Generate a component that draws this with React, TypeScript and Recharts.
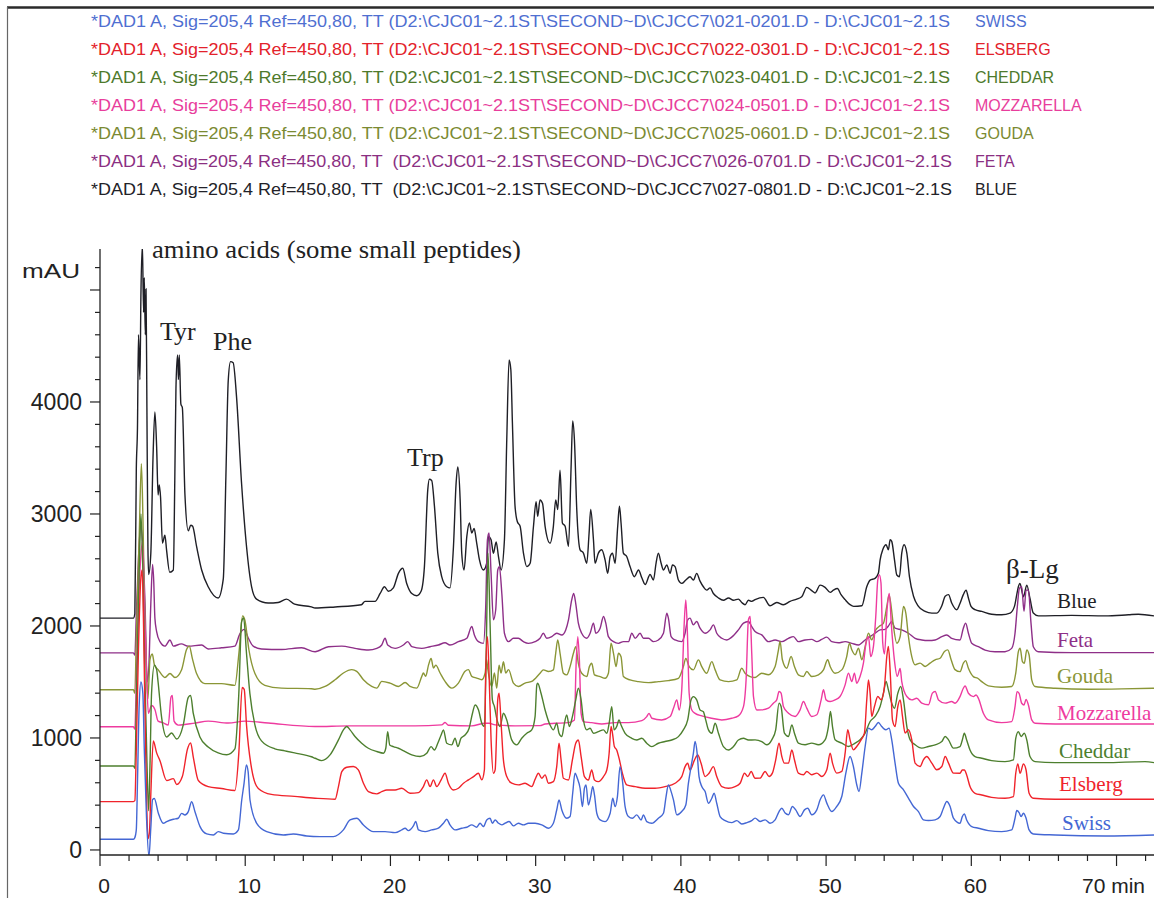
import React from "react";
import { LineChart, Line, XAxis, YAxis } from "recharts";

type Pt = [number, number];

// Reversed-phase HPLC of cheese water extracts, 205 nm.
// Each trace is [retention time (min), absorbance (mAU)], already stacked with its own offset.

const blueTrace: Pt[] = [
  [0, 2070], [2.3, 2070], [2.4, 2110], [2.5, 3400], [2.58, 3770], [2.65, 4600], [2.75, 4200], [2.82, 4970],
  [2.92, 5400], [3.0, 4800], [3.05, 5110], [3.12, 4600], [3.17, 5010], [3.23, 3950], [3.3, 2700], [3.35, 2460],
  [3.5, 2650], [3.65, 3500], [3.78, 3910], [3.9, 3600], [4.0, 3170], [4.08, 3260], [4.17, 3150], [4.3, 2740],
  [4.47, 2810], [4.59, 2670], [4.8, 2480], [5.05, 2500], [5.15, 3300], [5.23, 4120], [5.34, 4420], [5.4, 4200],
  [5.46, 4420], [5.57, 3980], [5.67, 3950], [5.85, 3170], [6.08, 2850], [6.25, 2900], [6.38, 2890], [6.65, 2710],
  [7.0, 2500], [7.45, 2350], [8.14, 2250], [8.49, 2420], [8.67, 3340], [8.83, 4190], [8.99, 4360], [9.17, 4350],
  [9.4, 4050], [9.75, 3270], [10.09, 2710], [10.44, 2350], [10.78, 2240], [11.58, 2205], [12.27, 2210],
  [12.84, 2240], [13.4, 2195], [14.56, 2170], [14.81, 2160], [16.19, 2170], [18.0, 2190], [18.25, 2220],
  [18.94, 2220], [19.29, 2290], [19.59, 2350], [19.86, 2310], [20.2, 2340], [20.55, 2470], [20.85, 2515],
  [21.12, 2380], [21.47, 2290], [21.81, 2270], [22.11, 2310], [22.34, 2530], [22.57, 3215], [22.68, 3310],
  [22.84, 3300], [23.03, 3070], [23.26, 2650], [23.53, 2440], [23.88, 2350], [24.1, 2340], [24.34, 2710],
  [24.52, 3270], [24.64, 3420], [24.8, 3130], [24.91, 2650], [25.07, 2500], [25.26, 2800], [25.44, 2920],
  [25.6, 2830], [25.76, 2870], [25.94, 2740], [26.13, 2590], [26.4, 2500], [26.63, 2560], [26.75, 2800],
  [26.93, 2770], [27.09, 2650], [27.28, 2750], [27.44, 2620], [27.62, 2500], [27.85, 2770], [28.01, 3660],
  [28.17, 4375], [28.29, 4290], [28.4, 3810], [28.58, 3070], [28.74, 2930], [28.93, 2890], [29.16, 2650],
  [29.39, 2530], [29.62, 2560], [29.85, 2890], [30.03, 3110], [30.14, 2980], [30.3, 3125], [30.47, 3095],
  [30.65, 2890], [30.99, 2740], [31.22, 2890], [31.38, 3125], [31.52, 3040], [31.68, 3390], [31.84, 2920],
  [32.03, 2890], [32.26, 2710], [32.44, 3420], [32.55, 3830], [32.67, 3660], [32.83, 3040], [33.06, 2680],
  [33.29, 2650], [33.52, 2560], [33.68, 2830], [33.79, 3040], [33.98, 2770], [34.09, 2560], [34.32, 2650],
  [34.55, 2680], [34.78, 2590], [34.96, 2470], [35.13, 2620], [35.29, 2650], [35.47, 2560], [35.65, 2890],
  [35.77, 3070], [35.88, 2920], [36.04, 2650], [36.27, 2620], [36.5, 2530], [36.8, 2440], [37.08, 2500],
  [37.31, 2430], [37.54, 2370], [37.88, 2460], [38.11, 2410], [38.29, 2560], [38.45, 2650], [38.64, 2560],
  [38.8, 2500], [39.03, 2545], [39.26, 2470], [39.42, 2545], [39.6, 2530], [39.83, 2410], [40.06, 2380],
  [40.34, 2410], [40.63, 2440], [40.86, 2410], [41.09, 2470], [41.32, 2400], [41.55, 2350], [41.78, 2320],
  [42.01, 2340], [42.24, 2290], [42.59, 2250], [42.93, 2230], [43.28, 2250], [43.62, 2230], [43.96, 2240],
  [44.19, 2210], [44.42, 2190], [44.65, 2230], [44.88, 2220], [45.11, 2235], [45.68, 2255], [46.14, 2180],
  [46.6, 2210], [47.06, 2190], [47.52, 2220], [47.98, 2240], [48.32, 2260], [48.67, 2345], [48.97, 2320],
  [49.24, 2295], [49.59, 2365], [49.93, 2345], [50.28, 2300], [50.5, 2320], [50.78, 2335], [51.03, 2280],
  [51.31, 2235], [51.65, 2190], [51.9, 2175], [52.46, 2180], [52.8, 2350], [53.03, 2410], [53.37, 2425],
  [53.6, 2470], [53.72, 2590], [53.9, 2680], [54.13, 2725], [54.29, 2680], [54.41, 2770], [54.52, 2755],
  [54.71, 2590], [54.87, 2455], [55.05, 2440], [55.21, 2650], [55.37, 2725], [55.56, 2650], [55.74, 2440],
  [56.02, 2265], [56.36, 2175], [56.82, 2130], [57.28, 2115], [57.62, 2115], [57.97, 2180], [58.2, 2265],
  [58.43, 2280], [58.65, 2205], [59.0, 2145], [59.22, 2200], [59.45, 2280], [59.64, 2320], [59.8, 2250],
  [59.98, 2175], [60.26, 2145], [60.72, 2130], [61.4, 2105], [62.09, 2100], [62.67, 2115], [62.97, 2175],
  [63.13, 2280], [63.24, 2350], [63.35, 2380], [63.59, 2260], [63.82, 2365], [64.04, 2245], [64.27, 2115],
  [64.62, 2090], [66.91, 2095], [69.21, 2090], [70.82, 2100], [71.5, 2105], [72.58, 2090],
];

const fetaTrace: Pt[] = [
  [0, 1760], [2.3, 1760], [2.4, 1740], [2.5, 2100], [2.65, 2600], [2.8, 2900], [2.95, 2700], [3.1, 2200],
  [3.25, 1500], [3.35, 1600], [3.5, 2200], [3.62, 2550], [3.7, 2400], [3.78, 2070], [3.9, 1950], [4.13, 1860],
  [4.47, 1820], [4.82, 1875], [5.05, 1820], [5.6, 1840], [6.08, 1820], [7.0, 1830], [7.45, 1795], [8.37, 1805],
  [9.29, 1820], [9.63, 1930], [9.93, 1970], [10.2, 1895], [10.55, 1820], [11.12, 1795], [12.5, 1790],
  [13.88, 1805], [14.81, 1770], [15.73, 1815], [16.65, 1820], [17.56, 1800], [18.48, 1785], [19.06, 1800],
  [19.4, 1830], [19.63, 1890], [19.81, 1830], [20.32, 1800], [20.89, 1830], [21.19, 1860], [21.47, 1815],
  [22.16, 1800], [22.73, 1815], [23.3, 1830], [23.76, 1850], [24.1, 1830], [24.68, 1860], [25.26, 1890],
  [25.6, 1995], [25.78, 1920], [26.06, 1860], [26.4, 1845], [26.56, 2170], [26.68, 2770], [26.79, 2830],
  [26.93, 2470], [27.09, 2055], [27.25, 2145], [27.39, 2500], [27.5, 2530], [27.67, 2290], [27.85, 1935],
  [28.13, 1860], [28.47, 1890], [28.81, 1890], [29.16, 1860], [29.5, 1845], [29.96, 1860], [30.3, 1890],
  [30.53, 1935], [30.76, 1890], [31.11, 1905], [31.45, 1935], [31.8, 1920], [32.07, 1965], [32.26, 2055],
  [32.48, 2230], [32.62, 2290], [32.76, 2200], [32.94, 2025], [33.17, 1935], [33.52, 1890], [33.75, 1935],
  [33.98, 2025], [34.14, 1935], [34.44, 1980], [34.67, 2085], [34.83, 2025], [35.01, 1905], [35.36, 1860],
  [35.7, 1845], [36.04, 1860], [36.39, 1860], [36.62, 1935], [36.85, 1890], [37.19, 1935], [37.42, 1890],
  [37.77, 1890], [38.11, 1860], [38.45, 1875], [38.8, 1935], [39.03, 2115], [39.14, 2070], [39.33, 1905],
  [39.6, 1875], [40.06, 1860], [40.29, 1935], [40.47, 2055], [40.63, 2070], [40.86, 2010], [41.09, 2040],
  [41.32, 1980], [41.67, 1935], [42.01, 1965], [42.24, 2010], [42.47, 1935], [42.82, 1890], [43.16, 1875],
  [43.5, 1900], [43.96, 1965], [44.31, 2025], [44.65, 2040], [44.88, 1995], [45.11, 1950], [45.57, 1920],
  [46.03, 1860], [46.49, 1875], [46.95, 1860], [47.41, 1890], [47.75, 1905], [48.09, 1860], [48.55, 1875],
  [49.01, 1880], [49.36, 1860], [49.7, 1880], [50.05, 1900], [50.39, 1860], [50.85, 1850], [51.31, 1860],
  [51.77, 1845], [52.23, 1830], [52.69, 1875], [53.03, 1905], [53.37, 1935], [53.72, 1965], [54.06, 1970],
  [54.29, 2000], [54.52, 2040], [54.75, 1980], [55.21, 1965], [55.67, 1935], [56.13, 1890], [56.59, 1875],
  [57.05, 1870], [57.51, 1875], [57.97, 1905], [58.31, 1920], [58.65, 1890], [59.22, 1875], [59.45, 1980],
  [59.61, 2025], [59.8, 1935], [60.03, 1845], [60.49, 1815], [60.95, 1785], [61.63, 1770], [62.32, 1770],
  [62.78, 1800], [63.01, 1935], [63.17, 2175], [63.31, 2335], [63.47, 2350], [63.63, 2130], [63.77, 2320],
  [63.93, 2320], [64.11, 2025], [64.27, 1815], [64.62, 1770], [66.91, 1762], [69.21, 1762], [72.58, 1762],
];

const goudaTrace: Pt[] = [
  [0, 1430], [2.3, 1430], [2.4, 1400], [2.5, 1900], [2.7, 2800], [2.85, 3450], [2.95, 3000], [3.05, 2300],
  [3.2, 1600], [3.3, 1350], [3.44, 1700], [3.6, 1750], [3.75, 1650], [4.0, 1610], [4.47, 1540], [4.82, 1575],
  [5.16, 1540], [5.62, 1610], [5.96, 1790], [6.15, 1820], [6.35, 1715], [6.65, 1575], [7.22, 1485], [8.37, 1485],
  [9.29, 1470], [9.56, 1750], [9.82, 2090], [9.98, 2050], [10.25, 1790], [10.67, 1575], [11.35, 1470],
  [12.5, 1445], [14.56, 1440], [14.81, 1435], [15.5, 1460], [16.19, 1520], [16.76, 1580], [17.34, 1610],
  [17.68, 1595], [18.14, 1520], [18.71, 1460], [19.06, 1445], [19.4, 1505], [19.97, 1490], [20.55, 1460],
  [21.01, 1495], [21.35, 1460], [21.81, 1445], [22.16, 1550], [22.27, 1580], [22.43, 1550], [22.62, 1650],
  [22.8, 1710], [22.96, 1625], [23.12, 1650], [23.42, 1580], [23.76, 1505], [24.22, 1445], [24.68, 1490],
  [25.14, 1595], [25.37, 1610], [25.6, 1550], [25.94, 1535], [26.29, 1520], [26.52, 1580], [26.62, 1700],
  [26.7, 1620], [26.98, 1460], [27.16, 1580], [27.32, 1445], [27.48, 1650], [27.62, 1580], [27.78, 1680],
  [27.94, 1580], [28.13, 1610], [28.47, 1490], [28.81, 1460], [29.27, 1490], [29.73, 1505], [30.3, 1578],
  [30.53, 1608], [30.88, 1593], [31.22, 1608], [31.38, 1756], [31.52, 1875], [31.68, 1756], [31.91, 1578],
  [32.14, 1563], [32.37, 1637], [32.6, 1756], [32.76, 1816], [32.94, 1667], [33.17, 1578], [33.52, 1548],
  [33.7, 1637], [33.86, 1667], [34.05, 1563], [34.44, 1548], [34.78, 1533], [35.01, 1578], [35.19, 1846],
  [35.36, 1756], [35.54, 1637], [35.7, 1756], [35.88, 1726], [36.04, 1548], [36.5, 1518], [37.08, 1503],
  [37.77, 1494], [38.45, 1503], [39.14, 1512], [39.83, 1533], [40.17, 1637], [40.34, 1711], [40.57, 1637],
  [40.86, 1608], [41.21, 1697], [41.44, 1637], [41.78, 1578], [42.13, 1682], [42.36, 1608], [42.7, 1518],
  [43.28, 1503], [43.85, 1518], [44.19, 1622], [44.42, 1578], [44.77, 1548], [45.11, 1540], [45.57, 1578],
  [46.03, 1564], [46.49, 1638], [46.72, 1787], [46.83, 1861], [46.99, 1698], [47.29, 1623], [47.59, 1727],
  [47.82, 1638], [48.09, 1564], [48.44, 1549], [48.67, 1593], [49.01, 1549], [49.47, 1564], [49.82, 1608],
  [50.11, 1698], [50.28, 1638], [50.62, 1578], [51.08, 1608], [51.42, 1727], [51.61, 1846], [51.77, 1787],
  [52.0, 1742], [52.23, 1802], [52.46, 1698], [52.69, 1817], [52.92, 1936], [53.14, 1876], [53.42, 1965],
  [53.65, 1995], [53.95, 2025], [54.18, 2174], [54.34, 2278], [54.48, 2174], [54.64, 1995], [54.87, 1846],
  [55.1, 1906], [55.33, 2174], [55.49, 2114], [55.67, 1906], [55.9, 1727], [56.13, 1653], [56.47, 1668],
  [56.82, 1638], [57.16, 1668], [57.51, 1698], [57.85, 1712], [58.15, 1772], [58.38, 1787], [58.61, 1698],
  [58.88, 1610], [59.22, 1592], [59.45, 1667], [59.61, 1691], [59.8, 1622], [60.14, 1548], [60.44, 1533],
  [60.72, 1503], [61.17, 1465], [62.09, 1453], [62.78, 1459], [63.06, 1578], [63.24, 1771], [63.36, 1801],
  [63.52, 1682], [63.65, 1667], [63.82, 1786], [63.98, 1741], [64.16, 1518], [64.39, 1459], [65.77, 1444],
  [68.06, 1435], [70.36, 1438], [72.58, 1444],
];

const mozzarellaTrace: Pt[] = [
  [0, 1100], [2.3, 1100], [2.4, 1080], [2.5, 1500], [2.65, 2200], [2.8, 2600], [2.92, 2750], [3.05, 2200],
  [3.2, 1600], [3.33, 1220], [3.55, 1290], [3.78, 1255], [4.0, 1150], [4.36, 1135], [4.7, 1115], [4.89, 1365],
  [4.98, 1380], [5.1, 1150], [5.39, 1115], [6.54, 1133], [7.45, 1150], [8.83, 1133], [9.98, 1150], [11.58, 1133],
  [14.81, 1102], [17.1, 1108], [19.4, 1108], [21.7, 1108], [23.53, 1117], [23.76, 1138], [23.99, 1114],
  [25.6, 1108], [26.52, 1132], [26.8, 1132], [27.21, 1117], [28.58, 1108], [30.3, 1110], [30.65, 1125],
  [31.34, 1131], [32.26, 1137], [32.67, 1161], [32.78, 1637], [32.9, 1905], [33.01, 1697], [33.13, 1220],
  [33.29, 1146], [33.86, 1137], [34.55, 1125], [35.47, 1137], [36.39, 1137], [37.31, 1155], [37.65, 1191],
  [37.81, 1220], [38.0, 1176], [38.68, 1161], [39.26, 1191], [39.49, 1265], [39.72, 1340], [39.88, 1250],
  [40.06, 1429], [40.22, 1994], [40.34, 2232], [40.45, 1935], [40.57, 1399], [40.75, 1250], [40.98, 1220],
  [41.44, 1197], [42.13, 1176], [42.82, 1161], [43.5, 1176], [43.96, 1197], [44.31, 1280], [44.49, 1518],
  [44.65, 2054], [44.77, 2084], [44.88, 1756], [45.0, 1369], [45.23, 1250], [45.57, 1251], [46.03, 1266],
  [46.37, 1311], [46.6, 1340], [46.76, 1415], [46.9, 1400], [47.06, 1281], [47.41, 1221], [47.87, 1192],
  [48.21, 1251], [48.44, 1325], [48.67, 1266], [49.01, 1192], [49.36, 1207], [49.66, 1340], [49.82, 1430],
  [50.0, 1340], [50.28, 1325], [50.62, 1340], [50.96, 1370], [51.31, 1474], [51.54, 1579], [51.77, 1504],
  [51.95, 1579], [52.11, 1489], [52.34, 1549], [52.57, 1668], [52.75, 1846], [52.92, 1906], [53.07, 1727],
  [53.26, 1817], [53.42, 2084], [53.56, 2412], [53.67, 2456], [53.78, 2382], [53.9, 1850], [54.02, 1750],
  [54.2, 2150], [54.35, 2290], [54.5, 2000], [54.7, 1700], [54.9, 1550], [55.1, 1620], [55.21, 1504],
  [55.56, 1370], [55.9, 1340], [56.24, 1355], [56.59, 1311], [57.05, 1296], [57.32, 1400], [57.51, 1415],
  [57.74, 1340], [58.2, 1311], [58.65, 1326], [58.88, 1310], [59.22, 1369], [59.45, 1444], [59.57, 1464],
  [59.8, 1399], [60.14, 1369], [60.33, 1384], [60.49, 1354], [60.83, 1220], [61.17, 1161], [62.09, 1137],
  [62.78, 1146], [63.01, 1280], [63.15, 1414], [63.29, 1399], [63.47, 1310], [63.63, 1295], [63.77, 1345],
  [63.93, 1295], [64.16, 1161], [64.39, 1131], [65.77, 1125], [69.21, 1125], [72.58, 1125],
];

const cheddarTrace: Pt[] = [
  [0, 750], [2.3, 750], [2.4, 730], [2.5, 1300], [2.7, 2500], [2.82, 3000], [2.95, 2500], [3.1, 1500],
  [3.25, 700], [3.35, 350], [3.45, 800], [3.55, 1400], [3.75, 1650], [3.9, 1610], [4.0, 1500], [4.24, 1186],
  [4.59, 1009], [4.93, 1044], [5.28, 991], [5.73, 1115], [6.08, 1363], [6.24, 1380], [6.42, 1221], [6.88, 1009],
  [7.45, 920], [8.14, 867], [8.72, 850], [9.29, 903], [9.56, 1398], [9.75, 2036], [9.89, 2071], [10.09, 1752],
  [10.32, 1398], [10.67, 1115], [11.12, 974], [12.04, 903], [12.73, 885], [13.4, 867], [14.56, 832],
  [14.81, 819], [15.27, 798], [15.84, 849], [16.42, 983], [16.76, 1072], [16.99, 1102], [17.22, 1072],
  [17.56, 1013], [18.02, 953], [18.48, 908], [19.06, 879], [19.52, 864], [19.68, 908], [19.81, 1057],
  [19.95, 938], [20.2, 923], [20.55, 908], [21.01, 879], [21.47, 849], [22.04, 834], [22.5, 864], [22.8, 923],
  [23.03, 893], [23.26, 953], [23.49, 1027], [23.65, 1072], [23.88, 953], [24.22, 938], [24.45, 998],
  [24.64, 923], [24.86, 998], [25.14, 1027], [25.42, 1087], [25.65, 1221], [25.83, 1295], [26.06, 1251],
  [26.29, 1132], [26.47, 1102], [26.61, 1876], [26.72, 2649], [26.86, 2024], [27.02, 1340], [27.16, 1281],
  [27.34, 1161], [27.55, 1102], [27.78, 1221], [28.01, 1161], [28.35, 983], [28.7, 938], [29.04, 998],
  [29.39, 1042], [29.73, 1072], [29.96, 1191], [30.08, 1474], [30.14, 1488], [30.37, 1399], [30.65, 1250],
  [30.99, 1116], [31.22, 1072], [31.45, 1131], [31.61, 1042], [31.8, 1012], [31.98, 1131], [32.14, 1206],
  [32.32, 1102], [32.53, 1191], [32.76, 1340], [32.94, 1444], [33.13, 1340], [33.29, 1161], [33.52, 1072],
  [33.75, 1087], [33.98, 1042], [34.32, 1057], [34.67, 1072], [34.9, 1042], [35.06, 1131], [35.24, 1280],
  [35.4, 1072], [35.58, 1102], [35.74, 1161], [35.88, 1116], [36.16, 1042], [36.62, 997], [36.96, 982],
  [37.31, 997], [37.65, 953], [38.0, 923], [38.45, 953], [38.91, 968], [39.37, 982], [39.83, 1012],
  [40.17, 1072], [40.47, 1161], [40.7, 1340], [40.86, 1369], [41.09, 1340], [41.32, 1250], [41.55, 1235],
  [41.71, 1161], [41.9, 1072], [42.13, 1042], [42.36, 1131], [42.59, 1042], [42.93, 923], [43.28, 893],
  [43.62, 923], [43.96, 982], [44.31, 997], [44.65, 982], [45.11, 983], [45.57, 968], [45.91, 939],
  [46.26, 983], [46.53, 1073], [46.76, 1311], [46.9, 1281], [47.13, 1043], [47.41, 1013], [47.64, 1117],
  [47.82, 1043], [48.09, 954], [48.55, 939], [49.01, 954], [49.47, 939], [49.93, 983], [50.16, 1102],
  [50.3, 1236], [50.44, 1102], [50.62, 983], [51.08, 954], [51.54, 924], [52.0, 954], [52.34, 983],
  [52.69, 1043], [53.03, 1147], [53.37, 1192], [53.72, 1281], [53.95, 1400], [54.13, 1504], [54.29, 1430],
  [54.52, 1311], [54.71, 1266], [54.94, 1400], [55.14, 1460], [55.33, 1340], [55.56, 1102], [55.79, 983],
  [56.13, 939], [56.59, 909], [57.05, 924], [57.51, 939], [57.97, 968], [58.2, 1013], [58.43, 983],
  [58.77, 909], [59.22, 923], [59.38, 982], [59.52, 1042], [59.68, 982], [59.91, 893], [60.26, 834],
  [60.72, 819], [61.4, 798], [62.32, 789], [62.9, 804], [63.06, 997], [63.24, 1057], [63.43, 1012],
  [63.65, 1042], [63.82, 982], [64.04, 834], [64.39, 789], [65.77, 780], [69.21, 780], [71.96, 789],
  [72.58, 780],
];

const elsbergTrace: Pt[] = [
  [0, 432], [2.3, 432], [2.4, 440], [2.5, 900], [2.65, 1800], [2.8, 2400], [2.9, 2500], [3.0, 2000],
  [3.1, 1200], [3.2, 500], [3.3, 100], [3.4, 150], [3.5, 500], [3.67, 973], [3.9, 867], [4.13, 797],
  [4.59, 620], [5.05, 637], [5.28, 584], [5.67, 655], [6.03, 903], [6.24, 956], [6.42, 832], [6.77, 620],
  [7.45, 566], [8.37, 549], [9.29, 531], [9.56, 867], [9.79, 1451], [9.93, 1434], [10.09, 1115], [10.44, 726],
  [10.9, 549], [11.8, 496], [13.4, 478], [14.81, 462], [16.19, 453], [16.42, 566], [16.65, 700], [16.99, 739],
  [17.45, 745], [17.79, 715], [18.14, 596], [18.48, 521], [19.06, 501], [19.4, 521], [19.75, 536],
  [20.32, 536], [20.78, 551], [21.35, 506], [21.93, 512], [22.27, 566], [22.5, 626], [22.73, 566],
  [22.96, 626], [23.19, 566], [23.49, 626], [23.76, 685], [23.99, 596], [24.34, 536], [24.68, 551],
  [25.03, 596], [25.37, 626], [25.72, 655], [26.06, 685], [26.29, 626], [26.47, 715], [26.56, 1578],
  [26.68, 1905], [26.79, 1578], [26.93, 983], [27.09, 685], [27.21, 715], [27.39, 1340], [27.48, 1399],
  [27.62, 1132], [27.78, 804], [28.01, 655], [28.35, 596], [28.81, 581], [29.27, 596], [29.73, 566],
  [29.96, 630], [30.19, 685], [30.42, 640], [30.65, 670], [30.88, 596], [31.22, 610], [31.45, 744],
  [31.61, 953], [31.75, 804], [31.91, 640], [32.26, 625], [32.53, 804], [32.76, 953], [32.94, 982],
  [33.13, 834], [33.36, 655], [33.63, 625], [33.86, 714], [34.05, 625], [34.32, 610], [34.67, 655],
  [34.9, 714], [35.06, 863], [35.19, 1102], [35.29, 1042], [35.42, 923], [35.58, 893], [35.77, 804],
  [35.97, 685], [36.27, 581], [36.85, 566], [37.54, 551], [38.22, 551], [38.91, 566], [39.6, 596],
  [40.06, 655], [40.29, 744], [40.47, 774], [40.63, 714], [40.94, 804], [41.16, 848], [41.39, 774],
  [41.67, 655], [41.94, 685], [42.24, 744], [42.47, 655], [42.82, 566], [43.28, 551], [43.73, 566],
  [44.08, 596], [44.38, 685], [44.61, 655], [44.84, 700], [45.11, 640], [45.45, 641], [45.8, 701],
  [46.07, 656], [46.3, 686], [46.53, 805], [46.76, 953], [46.95, 835], [47.13, 775], [47.41, 775],
  [47.64, 894], [47.82, 805], [48.09, 686], [48.44, 671], [48.67, 701], [49.01, 671], [49.36, 686],
  [49.7, 656], [50.05, 716], [50.28, 864], [50.44, 775], [50.73, 686], [51.08, 701], [51.31, 864],
  [51.49, 1073], [51.65, 983], [51.88, 894], [52.11, 924], [52.41, 983], [52.64, 1043], [52.8, 1340],
  [52.92, 1519], [53.03, 1400], [53.14, 1192], [53.33, 1281], [53.56, 1370], [53.79, 1340], [54.02, 1460],
  [54.18, 1727], [54.29, 1817], [54.43, 1549], [54.57, 1162], [54.75, 1102], [54.94, 1281], [55.1, 1340],
  [55.26, 1192], [55.44, 1043], [55.67, 1073], [55.9, 983], [56.13, 775], [56.47, 745], [56.7, 805],
  [56.93, 834], [57.28, 775], [57.62, 716], [57.97, 745], [58.2, 834], [58.43, 775], [58.77, 686],
  [59.22, 685], [59.38, 714], [59.52, 714], [59.68, 670], [59.91, 566], [60.26, 506], [60.72, 491],
  [61.4, 470], [62.32, 462], [62.9, 476], [63.06, 685], [63.2, 768], [63.36, 685], [63.59, 768],
  [63.77, 714], [63.98, 506], [64.27, 462], [65.77, 453], [69.21, 453], [72.58, 453],
];

const swissTrace: Pt[] = [
  [0, 95], [2.3, 95], [2.4, 110], [2.5, 180], [2.58, 600], [2.7, 1300], [2.82, 1500], [2.95, 1400],
  [3.05, 900], [3.2, 300], [3.37, -60], [3.5, 200], [3.62, 450], [3.74, 460], [4.02, 327], [4.36, 238],
  [4.59, 253], [5.05, 274], [5.39, 283], [5.62, 327], [5.85, 312], [6.08, 342], [6.31, 431], [6.54, 342],
  [6.89, 208], [7.35, 143], [7.81, 134], [8.15, 164], [8.49, 149], [9.18, 143], [9.53, 179], [9.76, 446],
  [9.92, 595], [10.08, 760], [10.2, 700], [10.33, 446], [10.79, 238], [11.48, 164], [12.63, 134],
  [13.31, 143], [14.23, 125], [15.15, 119], [16.07, 119], [16.76, 179], [17.22, 268], [17.68, 283],
  [18.14, 223], [18.82, 164], [19.63, 164], [20.32, 155], [20.78, 179], [21.01, 194], [21.24, 173],
  [21.58, 215], [21.74, 254], [21.93, 179], [22.39, 164], [22.84, 179], [23.3, 194], [23.65, 239],
  [23.88, 274], [24.1, 224], [24.45, 179], [24.91, 194], [25.26, 203], [25.6, 224], [25.94, 203],
  [26.17, 239], [26.4, 209], [26.63, 268], [26.86, 283], [27.02, 239], [27.21, 268], [27.44, 239],
  [27.67, 224], [27.9, 239], [28.17, 254], [28.47, 215], [28.81, 239], [29.16, 224], [29.5, 239],
  [29.96, 238], [30.42, 224], [30.88, 194], [31.22, 238], [31.45, 357], [31.61, 447], [31.8, 357],
  [32.14, 283], [32.37, 298], [32.55, 506], [32.71, 685], [32.87, 640], [33.06, 551], [33.22, 387],
  [33.36, 551], [33.47, 581], [33.63, 402], [33.79, 477], [33.93, 566], [34.05, 491], [34.21, 328],
  [34.44, 268], [34.78, 253], [35.13, 328], [35.31, 462], [35.47, 387], [35.63, 477], [35.81, 744],
  [35.97, 625], [36.16, 387], [36.39, 298], [36.66, 283], [36.96, 313], [37.26, 268], [37.42, 313],
  [37.65, 253], [38.0, 238], [38.45, 283], [38.8, 328], [38.98, 477], [39.14, 581], [39.33, 521],
  [39.49, 447], [39.72, 313], [40.06, 343], [40.34, 402], [40.52, 596], [40.7, 744], [40.86, 863],
  [40.98, 968], [41.12, 863], [41.25, 655], [41.44, 566], [41.67, 521], [41.9, 417], [42.13, 462],
  [42.29, 506], [42.47, 417], [42.7, 298], [43.05, 262], [43.5, 244], [43.85, 262], [44.19, 232],
  [44.54, 244], [44.88, 262], [45.11, 284], [45.45, 254], [45.8, 269], [46.14, 239], [46.49, 269],
  [46.76, 343], [46.95, 373], [47.18, 329], [47.41, 314], [47.68, 388], [47.91, 358], [48.21, 299],
  [48.51, 358], [48.74, 373], [49.01, 314], [49.36, 358], [49.59, 448], [49.82, 492], [50.05, 418],
  [50.39, 343], [50.73, 388], [51.08, 477], [51.36, 686], [51.65, 834], [51.88, 745], [52.11, 582],
  [52.27, 522], [52.46, 686], [52.69, 924], [52.92, 1088], [53.14, 1073], [53.37, 1102], [53.6, 1138],
  [53.83, 1102], [54.11, 1073], [54.34, 1088], [54.52, 983], [54.75, 775], [54.98, 596], [55.33, 537],
  [55.67, 463], [56.02, 388], [56.36, 343], [56.7, 269], [57.05, 263], [57.51, 269], [57.85, 299],
  [58.08, 373], [58.31, 433], [58.54, 388], [58.77, 284], [59.22, 238], [59.38, 298], [59.52, 322],
  [59.68, 268], [60.03, 209], [60.49, 194], [61.17, 173], [62.09, 164], [62.78, 179], [63.01, 283],
  [63.13, 352], [63.29, 334], [63.43, 298], [63.59, 328], [63.75, 292], [63.98, 179], [64.27, 143],
  [65.77, 134], [69.21, 125], [72.58, 134],
];

const xTicks = [0, 2, 4, 6, 8, 10, 12, 14, 16, 18, 20, 22, 24, 26, 28, 30, 32, 34, 36, 38, 40, 42, 44, 46, 48, 50,
  52, 54, 56, 58, 60, 62, 64, 66, 68, 70, 72];
const yTicks = [0, 200, 400, 600, 800, 1000, 1200, 1400, 1600, 1800, 2000, 2200, 2400, 2600, 2800, 3000, 3200,
  3400, 3600, 3800, 4000, 4200, 4400, 4600, 4800, 5000, 5200];

const sampleNames = ["Swiss", "Elsberg", "Cheddar", "Mozzarella", "Gouda", "Feta", "Blue"];
const fileIds = ["021-0201", "022-0301", "023-0401", "024-0501", "025-0601", "026-0701", "027-0801"];

const W = 1154;
const H = 898;
const AXIS_X = 100;
const AXIS_Y = 855;
const SANS = "'Liberation Sans', Arial, Helvetica, sans-serif";
const SERIF = "'Liberation Serif', 'Times New Roman', serif";
const INK = "#222";

const series = [
  { name: "Blue", data: blueTrace, color: "#1f1f26", header: "#222228", labelY: 608 },
  { name: "Feta", data: fetaTrace, color: "#8e2f88", header: "#8b2f82", labelY: 647 },
  { name: "Gouda", data: goudaTrace, color: "#8a9636", header: "#7b8a32", labelY: 683 },
  { name: "Mozzarella", data: mozzarellaTrace, color: "#ee3b9f", header: "#e83e9c", labelY: 720 },
  { name: "Cheddar", data: cheddarTrace, color: "#4d7f2e", header: "#4e7a2c", labelY: 758 },
  { name: "Elsberg", data: elsbergTrace, color: "#f0232b", header: "#e3222b", labelY: 791 },
  { name: "Swiss", data: swissTrace, color: "#4467d4", header: "#4f6fd1", labelY: 830 },
];

const toRows = (pts: Pt[]) => pts.map(([t, v]) => ({ t, v }));

const YTick = (props: any) => {
  const { y, payload } = props;
  const v = payload.value as number;
  const major = v % 1000 === 0;
  return (
    <g>
      <line x1={AXIS_X - (major ? 10 : 5)} x2={AXIS_X} y1={y} y2={y} stroke={INK} strokeWidth={1.2} />
      {major && v < 5000 && (
        <text x={82} y={y + 8} textAnchor="end" fontFamily={SANS} fontSize={23} fill={INK}>
          {v}
        </text>
      )}
    </g>
  );
};

const XTick = (props: any) => {
  const { x, payload } = props;
  const v = payload.value as number;
  const major = v % 10 === 0;
  return (
    <g>
      <line x1={x} x2={x} y1={AXIS_Y} y2={AXIS_Y + (major ? 11 : 6)} stroke={INK} strokeWidth={1.2} />
      {major && (
        <text x={v === 70 ? x - 3 : x + 4} y={893} textAnchor="middle" fontFamily={SANS} fontSize={21} fill={INK}>
          {v === 70 ? "70 min" : v}
        </text>
      )}
    </g>
  );
};

const headerLine = (id: string, wide: boolean) =>
  `*DAD1 A, Sig=205,4 Ref=450,80, TT ${wide ? " " : ""}(D2:\\CJC01~2.1ST\\SECOND~D\\CJCC7\\${id}.D - D:\\CJC01~2.1S`;

export default function App() {
  const headerColors = [...series].reverse().map((s) => s.header);
  return (
    <div style={{ position: "absolute", left: 0, top: 0, width: W, height: H, background: "#fff" }}>
      <LineChart width={W} height={H} margin={{ top: 249, right: 0, bottom: 13, left: 40 }}>
        <XAxis
          type="number"
          dataKey="t"
          domain={[0, 72.58]}
          ticks={xTicks}
          interval={0}
          allowDataOverflow
          height={30}
          tickLine={false}
          axisLine={{ stroke: INK, strokeWidth: 1.3 }}
          tick={(p: any) => <XTick {...p} />}
        />
        <YAxis
          type="number"
          domain={[-45, 5366]}
          ticks={yTicks}
          interval={0}
          allowDataOverflow
          width={60}
          tickLine={false}
          axisLine={{ stroke: INK, strokeWidth: 1.3 }}
          tick={(p: any) => <YTick {...p} />}
        />
        {series.map((s) => (
          <Line
            key={s.name}
            data={toRows(s.data)}
            dataKey="v"
            type="monotone"
            stroke={s.color}
            strokeWidth={1.4}
            dot={false}
            activeDot={false}
            isAnimationActive={false}
          />
        ))}
      </LineChart>

      <svg
        width={W}
        height={H}
        style={{ position: "absolute", left: 0, top: 0, pointerEvents: "none" }}
      >
        {/* page frame */}
        <line x1={7} x2={W} y1={7.5} y2={7.5} stroke="#2a2a2a" strokeWidth={2.5} />
        <line x1={7.5} x2={7.5} y1={7} y2={H} stroke="#666" strokeWidth={1.2} />

        {/* run list */}
        {fileIds.map((id, i) => {
          const wide = i >= 5;
          return (
            <g key={id}>
              <text
                x={91}
                y={26.5 + i * 28.1}
                fontFamily={SANS}
                fontSize={16.5}
                fill={headerColors[i]}
                textLength={wide ? 861 : 859}
                lengthAdjust="spacingAndGlyphs"
                style={{ whiteSpace: "pre" }}
              >
                {headerLine(id, wide)}
              </text>
              <text x={975} y={26.5 + i * 28.1} fontFamily={SANS} fontSize={16} fill={headerColors[i]}>
                {sampleNames[i].toUpperCase()}
              </text>
            </g>
          );
        })}

        <text x={22} y={278} fontFamily={SANS} fontSize={21} fill={INK} textLength={58} lengthAdjust="spacingAndGlyphs">
          mAU
        </text>

        {/* peak annotations */}
        <text x={152} y={258} fontFamily={SERIF} fontSize={26} fill={INK} textLength={369} lengthAdjust="spacingAndGlyphs">
          amino acids (some small peptides)
        </text>
        <text x={160} y={340} fontFamily={SERIF} fontSize={26} fill={INK}>Tyr</text>
        <text x={213} y={350} fontFamily={SERIF} fontSize={26} fill={INK}>Phe</text>
        <text x={407} y={466} fontFamily={SERIF} fontSize={26} fill={INK}>Trp</text>
        <text x={1006} y={578} fontFamily={SERIF} fontSize={27} fill={INK}>β-Lg</text>

        {/* trace names */}
        {series.map((s) => (
          <text
            key={s.name}
            x={s.name === "Swiss" ? 1062 : s.name === "Cheddar" || s.name === "Elsberg" ? 1059 : 1057}
            y={s.labelY}
            fontFamily={SERIF}
            fontSize={21}
            fill={s.color}
          >
            {s.name}
          </text>
        ))}
      </svg>
    </div>
  );
}
